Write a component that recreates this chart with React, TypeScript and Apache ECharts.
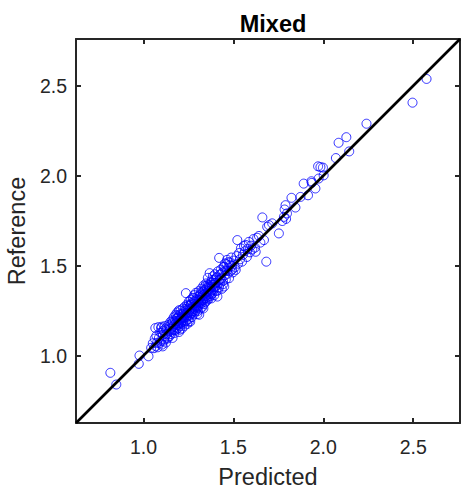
import React, { useEffect, useRef } from "react";
import * as echarts from "echarts";

const TITLE = "Mixed";
const X_NAME = "Predicted";
const Y_NAME = "Reference";
const AXIS_MIN = 0.625;
const AXIS_MAX = 2.76;
const TICKS = [1.0, 1.5, 2.0, 2.5];

const predicted: number[] = [
  0.816, 0.849, 0.974, 0.978, 1.028, 1.043,
  1.052, 1.058, 1.063, 1.066, 1.068, 1.072, 1.075, 1.079, 1.083, 1.086, 1.09, 1.094, 1.097, 1.098,
  1.101, 1.104, 1.107, 1.108, 1.111, 1.115, 1.118, 1.121, 1.125, 1.128, 1.132, 1.135, 1.138, 1.142,
  1.145, 1.149, 1.152,
  1.155, 1.157, 1.16, 1.162, 1.164, 1.166, 1.168, 1.17, 1.172, 1.174, 1.176, 1.178, 1.18, 1.182,
  1.184, 1.186, 1.188, 1.19, 1.192, 1.194, 1.196, 1.198, 1.2, 1.202, 1.204, 1.206, 1.208, 1.21,
  1.212, 1.214, 1.216, 1.218, 1.22, 1.222, 1.224, 1.226, 1.228, 1.23, 1.232, 1.234, 1.236, 1.238,
  1.24, 1.242, 1.244, 1.246, 1.248, 1.25, 1.252, 1.254, 1.256, 1.258, 1.26, 1.262, 1.264, 1.266,
  1.268, 1.27, 1.272, 1.274, 1.276, 1.278, 1.28, 1.282, 1.284, 1.286, 1.288, 1.29, 1.292, 1.294,
  1.296, 1.298, 1.3, 1.302, 1.304, 1.306, 1.308, 1.31, 1.312, 1.314, 1.316, 1.318, 1.32, 1.322,
  1.324, 1.326, 1.328, 1.33, 1.332, 1.334, 1.336, 1.338, 1.34, 1.342, 1.344, 1.346, 1.348, 1.35,
  1.352, 1.354, 1.356, 1.358, 1.36, 1.362, 1.364, 1.366, 1.368, 1.37, 1.372, 1.374, 1.376, 1.378,
  1.38, 1.382, 1.384, 1.386, 1.388, 1.39, 1.392, 1.394, 1.396, 1.398, 1.4, 1.402, 1.405, 1.408,
  1.411, 1.411, 1.414, 1.417, 1.42, 1.421, 1.424, 1.427, 1.43, 1.433, 1.436, 1.439, 1.442, 1.445,
  1.449, 1.449, 1.452, 1.455, 1.458,
  1.462, 1.465, 1.468, 1.472, 1.476, 1.48, 1.484, 1.488, 1.492, 1.497, 1.502, 1.508, 1.513, 1.518,
  1.522, 1.526, 1.532, 1.537, 1.542, 1.548, 1.553, 1.559, 1.564, 1.569, 1.575, 1.58, 1.586, 1.592,
  1.598, 1.605, 1.612, 1.62, 1.624, 1.632, 1.642, 1.65, 1.661, 1.67, 1.683, 1.688, 1.698, 1.716,
  1.753, 1.772, 1.781, 1.785, 1.79, 1.793, 1.798, 1.823, 1.845, 1.873, 1.891, 1.915, 1.934, 1.936,
  1.956, 1.971, 1.974, 1.984, 1.998, 2.002, 2.07, 2.085, 2.128, 2.144, 2.24, 2.496, 2.574,
  1.103, 1.113, 1.123, 1.133, 1.143, 1.153, 1.163, 1.173, 1.183, 1.193, 1.203, 1.213, 1.223, 1.233,
  1.243, 1.253, 1.263, 1.273, 1.283, 1.293, 1.303, 1.313, 1.323, 1.333, 1.343, 1.353, 1.363, 1.373,
  1.383, 1.393, 1.403, 1.413, 1.423, 1.433, 1.443, 1.453, 1.463, 1.473, 1.483, 1.493,
  1.188, 1.198, 1.208, 1.218, 1.228, 1.238, 1.248, 1.258, 1.268, 1.278, 1.288, 1.298, 1.308, 1.318,
  1.328, 1.338, 1.348, 1.358, 1.368, 1.378,
];

const reference: number[] = [
  0.904, 0.839, 0.954, 1.0, 0.996, 1.043,
  1.068, 1.041, 1.094, 1.153, 1.052, 1.11, 1.071, 1.046, 1.158, 1.098, 1.069, 1.127, 1.082, 1.153,
  1.16, 1.061, 1.051, 1.115, 1.139, 1.09, 1.164, 1.108, 1.072, 1.142, 1.121, 1.095, 1.17, 1.134,
  1.107, 1.186, 1.15,
  1.132, 1.178, 1.196, 1.098, 1.16, 1.141, 1.212, 1.172, 1.125, 1.19, 1.158, 1.227, 1.181, 1.144,
  1.205, 1.168, 1.24, 1.193, 1.152, 1.216, 1.179, 1.131, 1.228, 1.198, 1.163, 1.251, 1.21, 1.185,
  1.232, 1.15, 1.219, 1.196, 1.262, 1.176, 1.241, 1.208, 1.165, 1.272, 1.228, 1.19, 1.347, 1.25,
  1.214, 1.283, 1.176, 1.238, 1.261, 1.201, 1.299, 1.243, 1.222, 1.275, 1.188, 1.31, 1.256, 1.233,
  1.29, 1.214, 1.268, 1.321, 1.247, 1.283, 1.229, 1.336, 1.262, 1.301, 1.244, 1.278, 1.349, 1.254,
  1.312, 1.289, 1.231, 1.327, 1.27, 1.302, 1.358, 1.227, 1.319, 1.284, 1.34, 1.261, 1.3, 1.372,
  1.292, 1.33, 1.271, 1.353, 1.31, 1.389, 1.286, 1.342, 1.318, 1.367, 1.297, 1.331, 1.401, 1.349,
  1.305, 1.376, 1.321, 1.432, 1.359, 1.314, 1.39, 1.343, 1.458, 1.372, 1.33, 1.405, 1.361, 1.318,
  1.42, 1.384, 1.346, 1.441, 1.394, 1.365, 1.421, 1.336, 1.403, 1.452, 1.382, 1.403, 1.359, 1.436,
  1.328, 1.393, 1.468, 1.417, 1.38, 1.543, 1.449, 1.402, 1.478, 1.426, 1.371, 1.461, 1.415, 1.493,
  1.384, 1.494, 1.446, 1.472, 1.423,
  1.508, 1.532, 1.455, 1.489, 1.43, 1.517, 1.47, 1.545, 1.498, 1.462, 1.528, 1.49, 1.476, 1.553,
  1.642, 1.511, 1.57, 1.535, 1.596, 1.522, 1.56, 1.61, 1.58, 1.615, 1.548, 1.593, 1.632, 1.574,
  1.611, 1.59, 1.648, 1.6, 1.577, 1.655, 1.665, 1.628, 1.768, 1.642, 1.522, 1.716, 1.725, 1.735,
  1.679, 1.748, 1.771, 1.812, 1.836, 1.76, 1.79, 1.877, 1.823, 1.882, 1.956, 1.891, 1.969, 1.96,
  1.929, 2.052, 1.984, 2.048, 2.045, 2.002, 2.098, 2.183, 2.214, 2.135, 2.289, 2.406, 2.538,
  1.128, 1.082, 1.15, 1.101, 1.162, 1.119, 1.187, 1.14, 1.222, 1.17, 1.144, 1.205, 1.188, 1.258,
  1.221, 1.19, 1.281, 1.24, 1.305, 1.27, 1.248, 1.333, 1.311, 1.262, 1.385, 1.338, 1.372, 1.349,
  1.407, 1.38, 1.43, 1.362, 1.421, 1.455, 1.397, 1.512, 1.47, 1.52, 1.505, 1.478,
  1.208, 1.252, 1.178, 1.23, 1.214, 1.194, 1.277, 1.257, 1.246, 1.318, 1.296, 1.265, 1.29, 1.35,
  1.305, 1.362, 1.32, 1.395, 1.383, 1.34,
];

const FONT = 'Arial, "Liberation Sans", Helvetica, sans-serif';
const DARK = "#262626";

export default function App() {
  const ref = useRef<HTMLDivElement>(null);
  useEffect(() => {
    if (!ref.current) return;
    const chart = echarts.init(ref.current, undefined, { renderer: "svg" });
    const points = predicted.map((p, i) => [p, reference[i]]);
    const baseAxis = {
      type: "value" as const,
      min: AXIS_MIN,
      max: AXIS_MAX,
      splitLine: { show: false },
      axisLine: { show: true, onZero: false, lineStyle: { color: DARK, width: 2 } },
      axisTick: {
        show: true,
        inside: true,
        length: 5,
        customValues: TICKS,
        lineStyle: { color: DARK, width: 2 },
      },
    };
    chart.setOption({
      animation: false,
      backgroundColor: "#ffffff",
      title: {
        text: TITLE,
        left: 268,
        top: 7,
        textAlign: "center",
        textStyle: { fontFamily: FONT, fontSize: 23.5, fontWeight: "bold", color: "#000000" },
      },
      grid: {
        left: 76,
        top: 39,
        width: 384,
        height: 384,
        containLabel: false,
        outerBoundsMode: "none",
      },
      xAxis: [
        {
          ...baseAxis,
          position: "bottom",
          name: X_NAME,
          nameLocation: "middle",
          nameGap: 42,
          nameTextStyle: { fontFamily: FONT, fontSize: 23.5, color: DARK },
          axisLabel: {
            show: true,
            customValues: TICKS,
            margin: 14,
            formatter: (v: number) => v.toFixed(1),
            fontFamily: FONT,
            fontSize: 19.5,
            color: DARK,
          },
        },
        {
          ...baseAxis,
          position: "top",
          axisLabel: { show: false },
        },
      ],
      yAxis: [
        {
          ...baseAxis,
          position: "left",
          name: Y_NAME,
          nameLocation: "middle",
          nameGap: 42,
          nameTextStyle: { fontFamily: FONT, fontSize: 23.5, color: DARK },
          axisLabel: {
            show: true,
            customValues: TICKS,
            margin: 9,
            formatter: (v: number) => v.toFixed(1),
            fontFamily: FONT,
            fontSize: 19.5,
            color: DARK,
          },
        },
        {
          ...baseAxis,
          position: "right",
          axisLabel: { show: false },
        },
      ],
      series: [
        {
          type: "scatter",
          xAxisIndex: 0,
          yAxisIndex: 0,
          symbol: "circle",
          symbolSize: 9,
          data: points,
          itemStyle: { color: "rgba(0,0,0,0)", borderColor: "#0000ff", borderWidth: 1 },
          z: 2,
        },
        {
          type: "line",
          xAxisIndex: 0,
          yAxisIndex: 0,
          data: [
            [AXIS_MIN, AXIS_MIN],
            [AXIS_MAX, AXIS_MAX],
          ],
          symbol: "none",
          lineStyle: { color: "#000000", width: 2.6 },
          z: 3,
        },
      ],
    });
    return () => chart.dispose();
  }, []);
  return (
    <div
      ref={ref}
      style={{ position: "fixed", left: 0, top: 0, width: 462, height: 492, background: "#fff" }}
    />
  );
}
